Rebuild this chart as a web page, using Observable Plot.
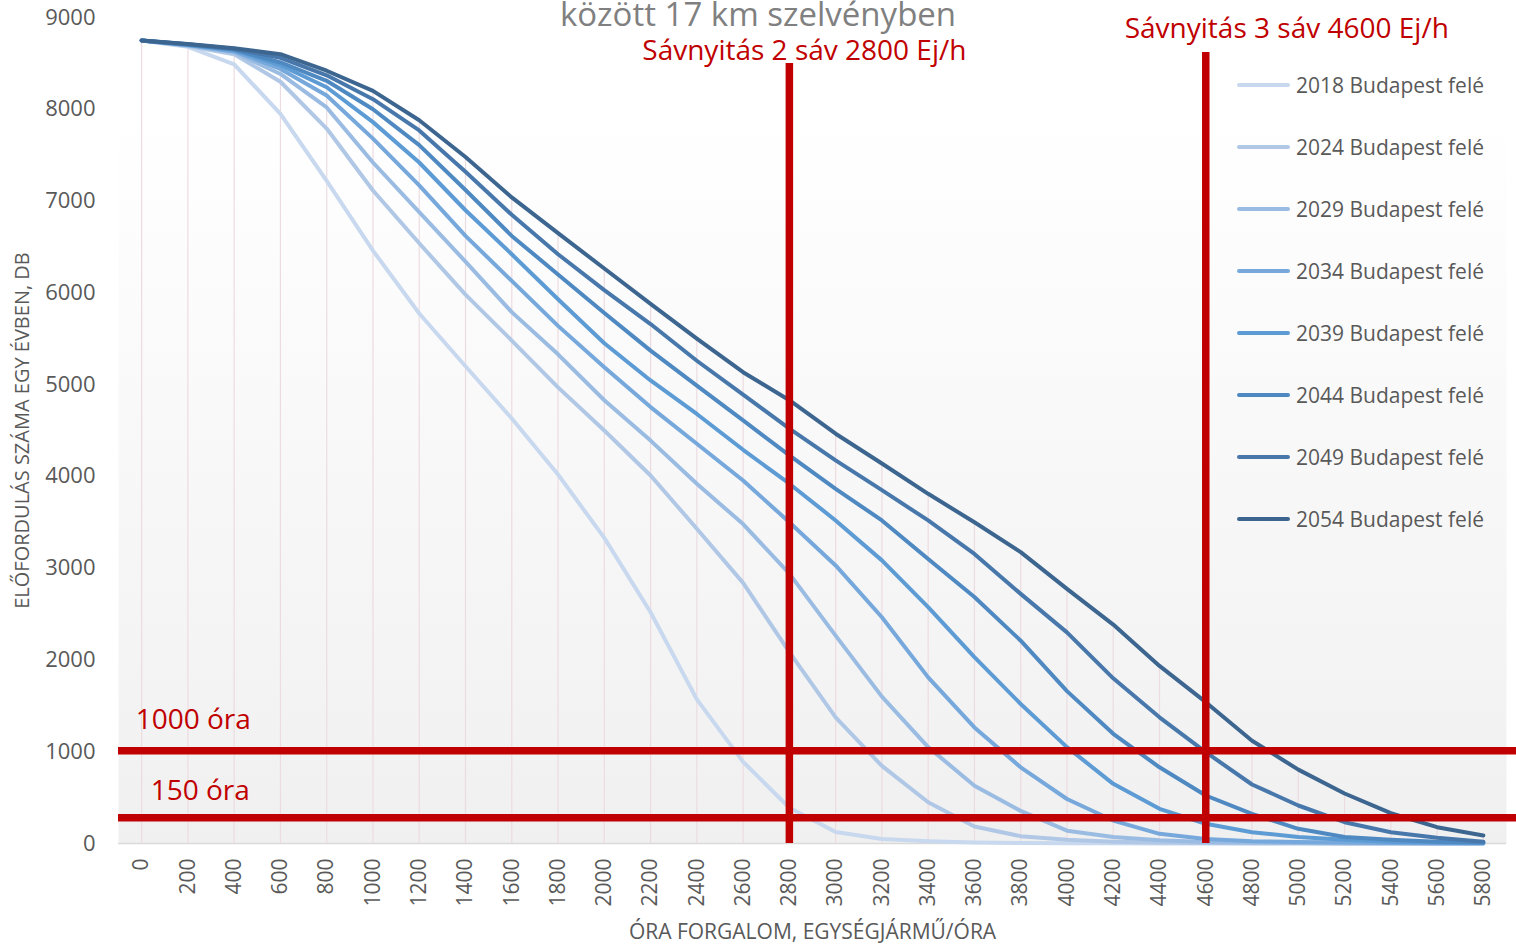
<!DOCTYPE html>
<html>
<head>
<meta charset="utf-8">
<script src="https://cdn.jsdelivr.net/npm/d3@7"></script>
<script src="https://cdn.jsdelivr.net/npm/@observablehq/plot@0.6"></script>
<style>
  html, body { margin: 0; padding: 0; background: #ffffff; }
  body { font-family: "Open Sans", sans-serif; }
  #wrap { position: relative; width: 1516px; height: 944px; overflow: hidden; }
  #chart { position: absolute; left: 0; top: 0; }
  #title { position: absolute; left: 0; top: -3px; width: 1516px; text-align: center;
           font-size: 33px; line-height: 33px; color: #808080; white-space: nowrap; }
  #legend { position: absolute; left: 1237px; top: 0; }
  .item { position: absolute; left: 0; height: 28px; display: flex; align-items: center; white-space: nowrap; }
  .swatch { width: 53px; height: 4px; border-radius: 2px; margin-right: 6px; }
  .lab { font-size: 21px; color: #595959; }
</style>
</head>
<body>
<div id="wrap">
  <div id="chart"></div>
  <div id="title">között 17 km szelvényben</div>
  <div id="legend"></div>
</div>
<script>
// ---- data ----
const xCats = [0, 200, 400, 600, 800, 1000, 1200, 1400, 1600, 1800, 2000, 2200, 2400, 2600, 2800,
               3000, 3200, 3400, 3600, 3800, 4000, 4200, 4400, 4600, 4800, 5000, 5200, 5400, 5600, 5800];
const yTicks = [0, 1000, 2000, 3000, 4000, 5000, 6000, 7000, 8000, 9000];
const years = ["2018", "2024", "2029", "2034", "2039", "2044", "2049", "2054"];
const colors = ["#c8d8ee", "#b0c8e6", "#9bbce2", "#76a8dc", "#5d9bd4", "#4f89c2", "#4878ab", "#3c6690"];

const s2018 = [8750, 8680, 8490, 7950, 7220, 6460, 5775, 5200, 4630, 4020, 3330, 2520, 1570, 890, 390,
               125, 48, 25, 10, 5, 3, 2, 1, 0, 0, 0, 0, 0, 0, 0];
const s2024 = [8750, 8690, 8600, 8300, 7790, 7115, 6540, 5980, 5480, 4970, 4500, 4010, 3430, 2840, 2085,
               1375, 845, 450, 185, 80, 40, 20, 10, 5, 3, 2, 1, 0, 0, 0];
const s2029 = [8750, 8695, 8620, 8385, 8020, 7420, 6880, 6340, 5790, 5330, 4830, 4390, 3920, 3480, 2940,
               2265, 1600, 1050, 630, 355, 140, 70, 35, 15, 10, 5, 3, 2, 1, 0];
const s2034 = [8750, 8700, 8630, 8440, 8150, 7680, 7170, 6620, 6130, 5640, 5190, 4755, 4355, 3955, 3500,
               3030, 2465, 1810, 1265, 830, 485, 250, 105, 50, 25, 15, 10, 5, 3, 2];
const s2039 = [8750, 8700, 8645, 8480, 8240, 7860, 7420, 6900, 6420, 5930, 5450, 5045, 4680, 4290, 3920,
               3520, 3085, 2575, 2030, 1520, 1050, 650, 378, 215, 123, 70, 40, 20, 10, 5];
const s2044 = [8750, 8705, 8650, 8510, 8310, 8000, 7610, 7120, 6620, 6200, 5780, 5370, 4990, 4610, 4230,
               3865, 3520, 3100, 2685, 2210, 1660, 1195, 830, 523, 323, 160, 70, 40, 20, 10];
const s2049 = [8750, 8708, 8660, 8560, 8370, 8110, 7770, 7320, 6850, 6420, 6030, 5660, 5260, 4890, 4520,
               4175, 3850, 3520, 3155, 2720, 2300, 1800, 1375, 995, 643, 414, 232, 123, 62, 20];
const s2054 = [8750, 8710, 8665, 8600, 8420, 8200, 7880, 7480, 7040, 6650, 6265, 5880, 5500, 5135, 4830,
               4465, 4140, 3810, 3500, 3175, 2775, 2385, 1935, 1540, 1120, 805, 545, 330, 178, 87];

// lane-opening markers (vertical) and hour thresholds (horizontal)
const laneX = [2800, 4600];
const laneTop = [8500, 8620];
const laneLabels = ["Sávnyitás 2 sáv 2800 Ej/h", "Sávnyitás 3 sáv 4600 Ej/h"];
const thresholdY = [1010, 280];
const thresholdLabels = ["1000 óra", "150 óra"];
const thresholdSpan = [-100, 5945];

const xLabel = "ÓRA FORGALOM, EGYSÉGJÁRMŰ/ÓRA";
const yLabel = "ELŐFORDULÁS SZÁMA EGY ÉVBEN, DB";

// ---- tables ----
const seriesNames = years.map(y => y + " Budapest felé");
const seriesValues = [s2018, s2024, s2029, s2034, s2039, s2044, s2049, s2054];
const rows = seriesNames.flatMap((name, i) => xCats.map((x, j) => ({name, x, v: seriesValues[i][j]})));
const drops = xCats.map((x, j) => ({x, v: d3.max(seriesValues, s => s[j])}));
const lanes = laneX.map((x, i) => ({x, top: laneTop[i], label: laneLabels[i]}));
const thresholds = thresholdY.map((y, i) => ({y, label: thresholdLabels[i]}));

const red = "#c00000";
const grey = "#595959";

const chart = Plot.plot({
  width: 1516,
  height: 944,
  marginLeft: 118,
  marginRight: 10,
  marginTop: 17,
  marginBottom: 101,
  style: {fontFamily: "'Open Sans', sans-serif", background: "transparent", overflow: "visible"},
  x: {type: "linear", domain: [-100, 5900]},
  y: {domain: [0, 9000]},
  color: {domain: seriesNames, range: colors},
  marks: [
    Plot.frame({fill: "url(#plotBg)", stroke: "none"}),
    Plot.ruleX(drops, {x: "x", y1: 0, y2: "v", stroke: "#ecdce1", strokeWidth: 1.2}),
    Plot.ruleY([0], {stroke: "#d9d9d9", strokeWidth: 1.5}),
    Plot.line(rows, {x: "x", y: "v", z: "name", stroke: "name", strokeWidth: 4,
                     strokeLinejoin: "round", strokeLinecap: "round"}),
    Plot.ruleX(lanes, {x: "x", y1: 0, y2: "top", stroke: red, strokeWidth: 7.5}),
    Plot.ruleY(thresholds, {y: "y", x1: thresholdSpan[0], x2: thresholdSpan[1], stroke: red, strokeWidth: 7.5}),
    Plot.text([lanes[0]], {x: "x", y: "top", text: "label", dx: 15, dy: -3, lineAnchor: "bottom",
                           fontSize: 28, fill: red}),
    Plot.text([lanes[1]], {x: "x", y: "top", text: "label", dx: 81, dy: -14, lineAnchor: "bottom",
                           fontSize: 28, fill: red}),
    Plot.text([thresholds[0]], {x: 0, y: "y", text: "label", dx: -6, dy: -22, lineAnchor: "bottom",
                                textAnchor: "start", fontSize: 28, fill: red}),
    Plot.text([thresholds[1]], {x: 0, y: "y", text: "label", dx: 9, dy: -18, lineAnchor: "bottom",
                                textAnchor: "start", fontSize: 28, fill: red}),
    Plot.axisY({ticks: yTicks, tickSize: 0, tickPadding: 23, fontSize: 22, color: grey, label: null,
                tickFormat: d => String(d)}),
    Plot.axisX({ticks: xCats, tickSize: 0, tickPadding: 15, tickRotate: -90, fontSize: 21, color: grey,
                label: null, tickFormat: d => String(d)}),
    Plot.text([yLabel], {frameAnchor: "left", textAnchor: "middle", text: d => d, rotate: -90, dx: -96,
                         fontSize: 20, fill: grey}),
    Plot.text([xLabel], {frameAnchor: "bottom", textAnchor: "middle", text: d => d, dy: 95,
                         lineAnchor: "bottom", fontSize: 21, fill: grey})
  ]
});

const svgNS = "http://www.w3.org/2000/svg";
const defs = document.createElementNS(svgNS, "defs");
defs.innerHTML = '<linearGradient id="plotBg" x1="0" y1="0" x2="0" y2="1">' +
  '<stop offset="0" stop-color="#ffffff"/><stop offset="0.12" stop-color="#ffffff"/>' +
  '<stop offset="1" stop-color="#f0f0f0"/></linearGradient>';
chart.insertBefore(defs, chart.firstChild);
document.getElementById("chart").appendChild(chart);

// legend overlay
const legend = document.getElementById("legend");
seriesNames.forEach((name, i) => {
  const item = document.createElement("div");
  item.className = "item";
  item.style.top = (85 + 62 * i - 14) + "px";
  const sw = document.createElement("div");
  sw.className = "swatch";
  sw.style.background = colors[i];
  const lab = document.createElement("span");
  lab.className = "lab";
  lab.textContent = name;
  item.appendChild(sw);
  item.appendChild(lab);
  legend.appendChild(item);
});
</script>
</body>
</html>
